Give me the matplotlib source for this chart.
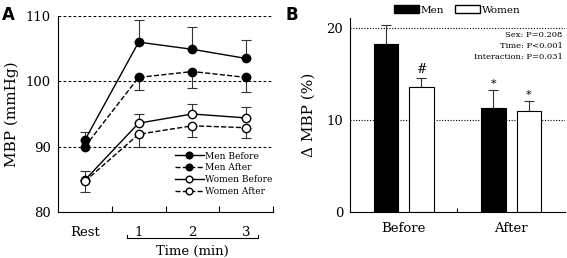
import matplotlib.pyplot as plt
from matplotlib.transforms import blended_transform_factory
from matplotlib.patches import Patch

plt.rcParams['font.family'] = 'DejaVu Serif'

# panel A: MBP over time
time_labels = ['Rest', '1', '2', '3']
men_before = [91.0, 106.0, 104.9, 103.5]
men_before_err = [1.3, 3.4, 3.4, 2.9]
men_after = [90.0, 100.6, 101.5, 100.6]
men_after_err = [0.0, 1.9, 2.5, 2.2]
women_before = [84.9, 93.6, 95.0, 94.4]
women_before_err = [1.3, 1.4, 1.5, 1.7]
women_after = [84.7, 91.9, 93.2, 92.9]
women_after_err = [1.7, 1.9, 1.7, 1.6]

# panel B: change in MBP
groups = ['Before', 'After']
men_delta = [18.2, 11.3]
men_delta_err = [2.1, 1.9]
women_delta = [13.5, 10.95]
women_delta_err = [1.0, 1.05]
marks_women = ['#', '*']
marks_men = ['', '*']

fig = plt.figure(figsize=(5.67, 2.58), dpi=100)

# ---------- A ----------
ax = fig.add_axes([0.1023, 0.1783, 0.3792, 0.7597])
x = list(range(len(time_labels)))
for yv in [90, 100, 110]:
    ax.axhline(yv, color='black', lw=0.8, ls=(0, (2.5, 2)), zorder=0)

eb = dict(fmt='none', ecolor='#333333', elinewidth=0.8, capsize=3.5, capthick=0.8, zorder=2)
ax.errorbar(x, men_before, yerr=[[0] * 4, men_before_err], **eb)
ax.errorbar(x, men_after, yerr=[men_after_err, [0] * 4], **eb)
ax.errorbar(x, women_before, yerr=[[0] * 4, women_before_err], **eb)
ax.errorbar(x, women_after, yerr=[women_after_err, [0] * 4], **eb)

ms = 6
ax.plot(x, men_before, '-o', color='black', mfc='black', ms=ms, lw=1, label='Men Before', zorder=3)
ax.plot(x, men_after, '--o', color='black', mfc='black', ms=ms, lw=1, label='Men After', zorder=3)
ax.plot(x, women_before, '-o', color='black', mfc='white', ms=ms, lw=1, label='Women Before', zorder=3)
ax.plot(x, women_after, '--o', color='black', mfc='white', ms=ms, lw=1, label='Women After', zorder=3)

ax.set_xlim(-0.5, 3.5)
ax.set_ylim(80, 110)
ax.set_yticks([80, 90, 100, 110])
ax.set_xticks(x)
ax.set_xticklabels(time_labels)
ax.set_xticks([0.5, 1.5, 2.5, 3.5], minor=True)
ax.tick_params(axis='x', which='major', length=0, pad=10, labelsize=9.5)
ax.tick_params(axis='x', which='minor', direction='in', length=4, width=0.8)
ax.tick_params(axis='y', direction='in', length=0, labelsize=9.5, pad=5)
for s in ['top', 'right']:
    ax.spines[s].set_visible(False)
ax.spines['left'].set_linewidth(0.8)
ax.spines['bottom'].set_linewidth(0.8)
ax.set_ylabel('MBP (mmHg)', fontsize=11, labelpad=5)

tr = blended_transform_factory(ax.transData, ax.transAxes)
ax.plot([0.78, 0.78, 3.22, 3.22], [-0.118, -0.133, -0.133, -0.118], color='black', lw=0.8,
        transform=tr, clip_on=False)
ax.text(2, -0.17, 'Time (min)', transform=tr, ha='center', va='top', fontsize=9.5)

ax.legend(loc='lower right', bbox_to_anchor=(1.02, 0.06), frameon=False, fontsize=6.5,
          handlelength=3.2, handletextpad=0.2, labelspacing=0.3, borderpad=0, markerscale=0.8)
fig.text(0.004, 0.975, 'A', fontsize=12, fontweight='bold', family='DejaVu Sans', va='top')

# ---------- B ----------
bx = fig.add_axes([0.6173, 0.1783, 0.379, 0.7508])
for yv in [10, 20]:
    bx.axhline(yv, color='black', lw=0.8, ls=(0, (1, 1.5)), zorder=0)
gx = list(range(len(groups)))
w = 0.23
off = 0.165
men_x = [g - off for g in gx]
women_x = [g + off for g in gx]
bx.bar(men_x, men_delta, width=w, color='black', edgecolor='black', lw=0.8, zorder=2)
bx.bar(women_x, women_delta, width=w, color='white', edgecolor='black', lw=0.8, zorder=2)
bx.errorbar(men_x, men_delta, yerr=[[0, 0], men_delta_err], **dict(eb, zorder=1))
bx.errorbar(women_x, women_delta, yerr=[[0, 0], women_delta_err], **dict(eb, zorder=1))
for i in gx:
    if marks_men[i]:
        bx.text(men_x[i], men_delta[i] + men_delta_err[i] + 0.2, marks_men[i], ha='center',
                va='bottom', fontsize=8)
    bx.text(women_x[i], women_delta[i] + women_delta_err[i] + 0.2, marks_women[i], ha='center',
            va='bottom', fontsize=8 if marks_women[i] == '*' else 9)

bx.set_xlim(-0.5, 1.5)
bx.set_ylim(0, 21)
bx.set_yticks([0, 10, 20])
bx.set_xticks(gx)
bx.set_xticklabels(groups)
bx.set_xticks([0.5], minor=True)
bx.tick_params(axis='x', which='major', length=0, pad=7, labelsize=9.5)
bx.tick_params(axis='x', which='minor', direction='in', length=3, width=0.8)
bx.tick_params(axis='y', direction='in', length=0, labelsize=9.5, pad=5)
for s in ['top', 'right']:
    bx.spines[s].set_visible(False)
bx.spines['left'].set_linewidth(0.8)
bx.spines['bottom'].set_linewidth(0.8)
bx.set_ylabel('Δ MBP (%)', fontsize=11, labelpad=8)

bx.text(0.99, 0.935, 'Sex: P=0.208\nTime: P<0.001\nInteraction: P=0.031', transform=bx.transAxes,
        ha='right', va='top', fontsize=6, linespacing=1.5)
bx.legend(handles=[Patch(facecolor='black', edgecolor='black', label='Men'),
                   Patch(facecolor='white', edgecolor='black', label='Women')],
          loc='lower left', bbox_to_anchor=(0.18, 0.99), ncol=2, frameon=False, fontsize=7.5,
          handlelength=2.4, handleheight=0.8, handletextpad=0.2, columnspacing=1.0, borderpad=0)
fig.text(0.503, 0.975, 'B', fontsize=12, fontweight='bold', family='DejaVu Sans', va='top')

fig.savefig('out.png', dpi=100)
